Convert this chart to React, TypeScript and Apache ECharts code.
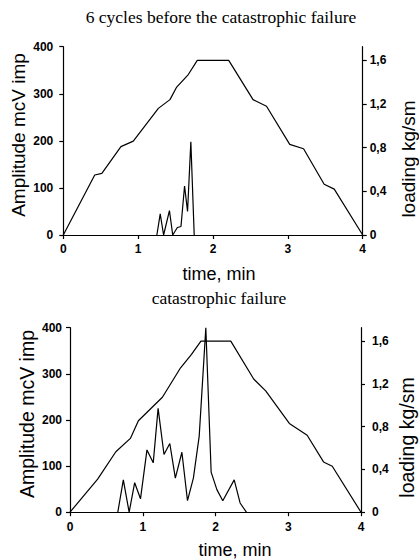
import React, { useEffect, useRef } from "react";
import * as echarts from "echarts";

// ---- Top chart: 6 cycles before the catastrophic failure ----
const topLoadT = [0, 0.42, 0.515, 0.77, 0.935, 1.27, 1.425, 1.515, 1.67, 1.79, 2.21, 2.535, 2.715, 3.025, 3.21, 3.485, 3.62, 4];
const topLoadV = [0, 0.55, 0.565, 0.81, 0.86, 1.16, 1.24, 1.355, 1.47, 1.6, 1.6, 1.24, 1.18, 0.83, 0.79, 0.465, 0.42, 0];
const topAmpT = [1.25, 1.295, 1.34, 1.418, 1.462, 1.524, 1.572, 1.62, 1.66, 1.704, 1.749];
const topAmpV = [0, 45, 0, 52, 0, 16, 18, 104, 50, 198, 0];

// ---- Bottom chart: catastrophic failure ----
const botLoadT = [0, 0.38, 0.63, 0.83, 0.94, 1.27, 1.52, 1.67, 1.8, 2.21, 2.525, 2.69, 3.015, 3.26, 3.485, 3.605, 4];
const botLoadV = [0, 0.31, 0.565, 0.69, 0.855, 1.075, 1.35, 1.475, 1.6, 1.6, 1.245, 1.135, 0.83, 0.72, 0.47, 0.43, 0];
const botAmpT = [0.657, 0.733, 0.813, 0.889, 0.969, 1.058, 1.144, 1.211, 1.292, 1.372, 1.448, 1.538, 1.615, 1.696, 1.776, 1.867, 1.94, 2.019, 2.1, 2.257, 2.338, 2.425];
const botAmpV = [0, 70, 0, 64, 29, 135, 107, 225, 125, 149, 74, 130, 25, 74, 165, 400, 87, 49, 25, 70, 20, 0];

// ---- Axes & texts ----
const timeRange = [0, 4];
const ampRange = [0, 400];
const loadRange = [0, 1.725];
const titles = ["6 cycles before the catastrophic failure", "catastrophic failure"];
const xName = "time, min";
const yLeftName = "Amplitude mcV imp";
const yRightName = "loading kg/sm";

const SANS = "'Liberation Sans', Arial, sans-serif";
const SERIF = "'Liberation Serif', 'Times New Roman', serif";

const zip = (t: number[], v: number[]) => t.map((x, i) => [x, v[i]]);

const axisLine = { show: true, onZero: false, lineStyle: { color: "#000", width: 1.2 } };
const axisTick = { show: true, length: 4, inside: false, lineStyle: { color: "#000", width: 1.2 } };
const labelBase = { color: "#000", fontFamily: SANS, fontSize: 12, fontWeight: "bold" };

const xAxisCfg = (gridIndex: number, margin: number) => ({
  type: "value",
  gridIndex,
  min: timeRange[0],
  max: timeRange[1],
  interval: 1,
  axisLine,
  axisTick,
  splitLine: { show: false },
  axisLabel: { ...labelBase, margin },
});

const yLeftCfg = (gridIndex: number, margin: number) => ({
  type: "value",
  gridIndex,
  position: "left",
  min: ampRange[0],
  max: ampRange[1],
  interval: 100,
  axisLine,
  axisTick,
  splitLine: { show: false },
  axisLabel: { ...labelBase, margin },
});

const yRightCfg = (gridIndex: number, margin: number) => ({
  type: "value",
  gridIndex,
  position: "right",
  min: loadRange[0],
  max: loadRange[1],
  interval: 0.4,
  axisLine,
  axisTick,
  splitLine: { show: false },
  axisLabel: {
    ...labelBase,
    margin,
    showMaxLabel: false,
    formatter: (v: number) => (v === 0 ? "0" : v.toFixed(1).replace(".", ",")),
  },
});

const lineSeries = (xi: number, yi: number, data: number[][]) => ({
  type: "line",
  xAxisIndex: xi,
  yAxisIndex: yi,
  data,
  symbol: "none",
  showSymbol: false,
  clip: false,
  lineStyle: { color: "#000", width: 1.2 },
});

const txt = (text: string, x: number, y: number, font: string, rotation = 0) => ({
  type: "text",
  x,
  y,
  rotation,
  silent: true,
  style: { text, font, fill: "#000", textAlign: "center", textVerticalAlign: "middle" },
});

export default function App() {
  const ref = useRef<HTMLDivElement>(null);
  useEffect(() => {
    document.body.style.margin = "0";
    const chart = echarts.init(ref.current!, null, { renderer: "svg" });
    chart.setOption({
      animation: false,
      backgroundColor: "#fff",
      grid: [
        { left: 63.3, top: 46.7, width: 299.4, height: 188.3 },
        { left: 70, top: 327.7, width: 291, height: 184.5 },
      ],
      xAxis: [xAxisCfg(0, 8), xAxisCfg(1, 9)],
      yAxis: [yLeftCfg(0, 10), yRightCfg(0, 7), yLeftCfg(1, 8), yRightCfg(1, 11)],
      series: [
        lineSeries(0, 1, zip(topLoadT, topLoadV)),
        lineSeries(0, 0, zip(topAmpT, topAmpV)),
        lineSeries(1, 3, zip(botLoadT, botLoadV)),
        lineSeries(1, 2, zip(botAmpT, botAmpV)),
      ],
      graphic: [
        txt(titles[0], 221, 17, `normal 17.5px ${SERIF}`),
        txt(yLeftName, 18, 135, `normal 19px ${SANS}`, Math.PI / 2),
        txt(yRightName, 408, 159, `normal 19px ${SANS}`, Math.PI / 2),
        txt(xName, 219, 274, `normal 18px ${SANS}`),
        txt(titles[1], 219, 298, `normal 17.5px ${SERIF}`),
        txt(yLeftName, 27, 414, `normal 19.5px ${SANS}`, Math.PI / 2),
        txt(yRightName, 406.7, 437.5, `normal 19.5px ${SANS}`, Math.PI / 2),
        txt(xName, 235, 550, `normal 18px ${SANS}`),
      ],
    });
    return () => chart.dispose();
  }, []);
  return <div ref={ref} style={{ width: 419, height: 559 }} />;
}
